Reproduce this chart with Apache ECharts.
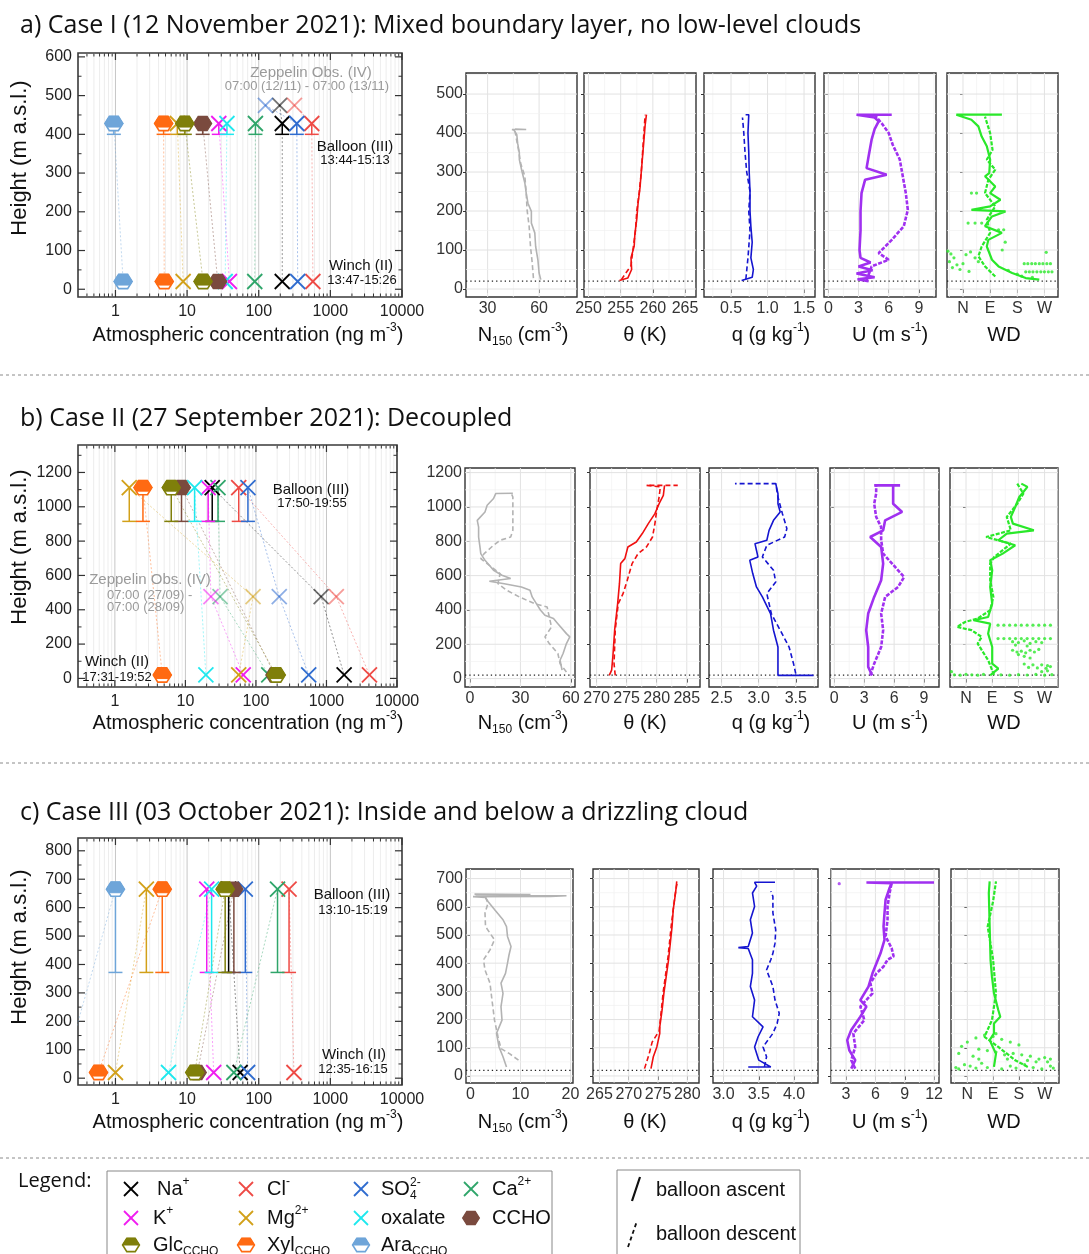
<!DOCTYPE html>
<html>
<head>
<meta charset="utf-8">
<script src="https://cdn.jsdelivr.net/npm/echarts@6/dist/echarts.min.js"></script>
<style>
html,body{margin:0;padding:0;background:#fff;}
#chart{width:1089px;height:1254px;}
</style>
</head>
<body>
<div id="chart"></div>
<script>
// ================= DATA =================
const SPECIES = ['Na+','Cl-','SO4 2-','Ca2+','K+','Mg2+','oxalate','CCHO','Glc_CCHO','Xyl_CCHO','Ara_CCHO'];
const SPECIES_COLORS = ['#000000','#ee4a45','#2f6ccf','#2fa56a','#f01cf0','#d2a019','#1ee8ee','#7a4a3e','#7f7f0a','#ff6a12','#6ea5d9'];
const SPECIES_SHAPES = ['x','x','x','x','x','x','x','hexFull','hexHalf','hexHalf','hexHalf'];
const SPECIES_LABELS = ['Na{sup|+}','Cl{sup|-}','SO','Ca{sup|2+}','K{sup|+}','Mg{sup|2+}','oxalate','CCHO','Glc{sub|CCHO}','Xyl{sub|CCHO}','Ara{sub|CCHO}'];

// concentrations (ng m-3), order as SPECIES
const caseA_balloon  = [213, 550, 340, 90, 27.7, 7.3, 36, 16.5, 9.3, 4.7, 0.95];
const caseA_zeppelin = [196, 315, 124, null, null, null, null, null, null, null, null];
const caseA_winch    = [213, 570, 350, 88, 39, 8.8, 34, 26.8, 16.7, 4.8, 1.28];
const caseA_levels   = [428, 400, 475, 20]; // balloon mean, balloon lowest, zeppelin, winch (m a.s.l.)

const caseB_balloon  = [24, 57, 77, 29, 21, 1.6, 13.5, 8.8, 6.3, 2.5, null];
const caseB_zeppelin = [840, 1380, 214, 31, 23, 91, null, null, null, null, null];
const caseB_winch    = [1780, 4070, 560, 152, 66, 57, 19.5, 185, 194, 4.7, null];
const caseB_levels   = [1112, 915, 476, 20];

const caseC_balloon  = [38, 265, 65, 183, 18.8, 2.7, 22, 45, 34, 4.5, 1.0];
const caseC_winch    = [55, 310, 70, 45, 23.5, 1.0, 5.5, 13.9, 12.8, 0.58, 0.19];
const caseC_levels   = [665, 372, null, 20];

const CONC_RANGE = [0.3, 10000];
const CONC_TICKS = [1, 10, 100, 1000, 10000];
const LEFT_Y_RANGE = [[-20, 610], [-50, 1360], [-24, 845]];
const LEFT_Y_TICKS = [[0,100,200,300,400,500,600],[0,200,400,600,800,1000,1200],[0,100,200,300,400,500,600,700,800]];

// ---- profiles: [value, height] ----
const A_N150_up = [[61,24],[60,41],[59.3,75],[58,109],[57.5,144],[55.5,169],[55.5,199],[53.5,220],[52.5,246],[51.7,272],[50,302],[48.5,332],[48.5,349],[47.5,374],[47,396],[45.5,407],[44.2,409],[52.5,409],[46,410]];
const A_N150_dn = [[56.7,28],[56,67],[55,109],[54.2,161],[53,203],[52.5,246],[51.7,289],[49.2,323],[48,357],[46.7,387],[46,404]];
const A_theta_up = [[254.8,22],[256.1,28],[256.7,50],[256.6,80],[257.1,110],[257.2,140],[257.5,180],[257.7,220],[258.0,260],[258.2,300],[258.4,340],[258.6,380],[258.8,420],[259.0,447]];
const A_theta_dn = [[255.1,24],[256.6,60],[256.9,100],[257.3,150],[257.5,200],[257.9,250],[258.2,300],[258.4,350],[258.6,400],[258.8,447]];
const A_q_up = [[0.645,22],[0.79,30],[0.806,50],[0.772,80],[0.79,120],[0.772,160],[0.76,200],[0.76,250],[0.749,300],[0.743,350],[0.732,400],[0.743,447],[0.70,447]];
const A_q_dn = [[0.703,25],[0.732,80],[0.76,150],[0.743,200],[0.76,250],[0.715,300],[0.692,350],[0.675,400],[0.657,440]];
const A_U_1 = [[4.0,20],[2.9,25],[4.6,30],[2.8,40],[4.4,48],[3.0,58],[4.2,68],[3.2,80],[3.1,100],[3.2,150],[3.2,200],[3.3,246],[3.65,280],[5.8,293],[3.8,310],[4.0,340],[4.3,383],[4.6,410],[5.0,430],[4.6,440],[2.8,447],[6.3,447]];
const A_U_2 = [[3.8,22],[4.3,58],[6.0,75],[5.0,92],[6.3,126],[7.5,161],[7.9,203],[7.7,246],[7.1,332],[6.4,370],[6.0,400],[5.3,425],[4.8,440],[4.6,447]];
const A_WD_1 = [[253,24],[208,28],[163,41],[118,58],[96,75],[79,109],[84,126],[129,144],[73,161],[96,186],[141,199],[28,203],[90,212],[124,229],[90,246],[107,263],[73,289],[87,297],[90,332],[79,366],[62,391],[51,417],[28,434],[-22,447],[129,447]];
const A_WD_2 = [[107,32],[73,58],[51,84],[62,109],[90,144],[79,178],[107,212],[73,246],[84,280],[107,306],[79,332],[98,357],[90,400],[73,442]];
const A_WD_pts = [[-50,97],[-40,90],[-30,80],[-45,70],[-20,62],[-35,55],[-10,50],[10,88],[25,95],[40,80],[51,70],[0,65],[20,45],[203,65],[215,65],[228,65],[240,65],[253,65],[265,65],[278,65],[290,65],[208,44],[220,44],[232,44],[245,44],[258,44],[270,44],[283,44],[295,44],[180,38],[195,33],[230,30],[150,48],[276,94],[28,246],[45,246],[17,169],[40,169],[62,169],[118,152],[135,152],[140,120],[130,100]];

const B_N150_up = [[54.8,49],[53.6,107],[55.4,146],[57.4,204],[59.4,243],[57.4,262],[52.3,320],[49.7,350],[44.6,369],[42,398],[39.5,437],[37,476],[35.7,515],[30.6,534],[20.4,553],[11.5,567],[24.2,583],[19,602],[14,631],[11.5,660],[8.9,689],[6.4,728],[5.9,767],[5.1,825],[5.1,883],[4.3,922],[8.9,971],[10.2,1010],[14,1049],[15.3,1078],[25.5,1080]];
const B_N150_dn = [[57.4,39],[53.6,87],[52.3,146],[47.2,204],[44.6,243],[48.5,301],[47.2,359],[45.9,417],[38.3,437],[29.3,476],[21.7,515],[16.6,553],[17.9,612],[11.5,660],[6.4,699],[8.4,728],[14,777],[17.9,806],[24.2,825],[25.5,864],[25.5,961],[25.5,1058],[24.2,1087]];
const B_theta_up = [[272.1,19],[272.5,49],[272.7,126],[273.0,282],[273.5,437],[273.8,553],[274.0,670],[274.7,699],[275.2,767],[276.6,796],[277.6,845],[278.6,903],[279.7,961],[280.4,1019],[281.1,1068],[281.3,1126]];
const B_theta_dn = [[273.1,19],[272.9,87],[273.1,282],[273.6,437],[274.4,495],[275.1,573],[275.9,670],[276.9,728],[278.3,767],[279.3,825],[279.7,903],[280.0,981],[280.4,1058],[280.6,1117],[278.3,1126],[283.5,1126]];
const B_q_up = [[3.74,19],[3.26,19],[3.26,49],[3.26,184],[3.2,282],[3.16,379],[3.05,476],[2.97,534],[2.92,612],[2.88,689],[2.99,709],[2.97,748],[2.95,786],[3.11,806],[3.14,864],[3.2,922],[3.29,971],[3.26,1019],[3.26,1078],[3.23,1136]];
const B_q_dn = [[3.5,29],[3.47,87],[3.41,184],[3.29,282],[3.17,379],[3.11,495],[3.23,563],[3.2,631],[3.05,709],[3.11,777],[3.35,825],[3.38,874],[3.32,961],[3.26,1058],[3.23,1136],[2.68,1136]];
const B_U_1 = [[3.8,19],[3.4,68],[3.4,184],[3.2,282],[3.4,379],[4.0,476],[4.7,573],[4.9,670],[4.7,767],[3.6,825],[4.9,864],[5.1,922],[6.8,971],[5.9,1019],[5.9,1068],[5.9,1126],[4.0,1126],[6.6,1126]];
const B_U_2 = [[3.6,19],[4.0,87],[4.7,184],[4.9,282],[4.7,379],[5.1,476],[6.4,534],[7.0,592],[6.4,631],[5.5,689],[4.9,728],[4.7,806],[4.7,883],[4.2,942],[4.0,1019],[4.2,1078],[4.2,1126]];
const B_WD_1 = [[190,1136],[211,1117],[183,1058],[169,1000],[154,942],[161,903],[233,864],[140,845],[111,806],[169,777],[126,728],[83,689],[90,631],[83,534],[90,437],[76,359],[26,340],[83,320],[76,262],[90,184],[90,87],[111,58],[83,19]];
const B_WD_2 = [[176,1136],[197,1078],[176,1019],[140,942],[154,864],[69,825],[154,786],[126,748],[97,709],[83,670],[83,573],[94,476],[83,398],[40,350],[-3,330],[-31,301],[19,282],[54,243],[40,204],[76,107],[97,19]];
const B_WD_pts = [[110,311],[130,311],[150,311],[170,311],[190,311],[210,311],[230,311],[250,311],[270,311],[290,311],[110,233],[130,233],[150,233],[170,233],[190,233],[210,233],[230,233],[250,233],[270,233],[290,233],[160,215],[180,210],[200,220],[220,205],[240,215],[260,210],[170,195],[210,190],[160,165],[175,155],[190,160],[205,150],[220,165],[235,155],[250,170],[180,140],[200,130],[220,120],[200,85],[230,80],[260,80],[280,75],[290,70],[215,65],[245,62],[275,60],[-40,22],[-20,20],[0,25],[20,22],[40,20],[60,24],[120,22],[150,20],[180,23],[210,21],[240,24],[270,20],[295,23],[-50,40],[260,40],[280,45]];

const C_N150_up = [[7.2,32],[6.5,68],[5.7,103],[5.2,151],[6.3,198],[6.1,246],[6.5,293],[6.1,329],[7.0,364],[7.4,400],[7.7,429],[8.1,459],[7.4,495],[7.2,530],[6.5,554],[4.8,590],[3.5,619],[3.0,633],[0.5,636],[16,637],[19.2,639],[1,641],[12,643],[0.8,645]];
const C_N150_dn = [[9.6,56],[7.8,79],[6.1,97],[5.5,139],[4.8,198],[4.3,269],[3.9,329],[2.9,376],[2.6,412],[3.9,447],[4.8,483],[3.0,530],[2.9,578],[3.5,613],[3.0,633]];
const C_theta_up = [[273.8,26],[274.2,68],[274.8,103],[275.3,151],[275.3,174],[275.7,234],[276.0,293],[276.4,352],[276.8,412],[277.1,471],[277.4,530],[277.6,590],[278.0,649],[278.2,690]];
const C_theta_dn = [[272.7,26],[273.5,79],[274.0,120],[275.2,160],[275.9,300],[276.7,420],[277.3,540],[277.9,640],[278.3,690]];
const C_q_up = [[3.35,32],[3.67,32],[3.5,56],[3.44,103],[3.49,139],[3.56,174],[3.41,210],[3.44,269],[3.38,317],[3.41,364],[3.41,412],[3.35,452],[3.21,455],[3.35,459],[3.41,507],[3.38,554],[3.44,601],[3.41,649],[3.47,673],[3.44,687],[3.73,687]];
const C_q_dn = [[3.58,32],[3.61,68],[3.56,103],[3.7,151],[3.76,186],[3.79,222],[3.73,269],[3.7,317],[3.61,376],[3.67,412],[3.7,435],[3.73,471],[3.74,518],[3.7,578],[3.7,637],[3.67,655]];
const C_U_1 = [[3.53,26],[3.94,56],[3.33,91],[3.12,127],[3.53,163],[4.46,210],[5.08,246],[4.46,269],[5.29,317],[5.7,364],[6.11,400],[6.52,435],[6.93,483],[6.83,530],[6.93,578],[7.04,625],[7.45,667],[7.66,684],[5.08,686],[11.99,686]];
const C_U_2 = [[3.94,26],[3.53,56],[3.94,103],[3.74,151],[4.87,198],[4.46,246],[5.7,293],[5.49,329],[6.11,364],[6.83,388],[7.24,412],[7.86,424],[7.66,453],[7.04,495],[7.24,554],[7.24,601],[7.45,649],[7.66,684]];
const C_U_pts = [[2.3,682]];
const C_WD_1 = [[93,32],[100,79],[78,127],[93,151],[93,186],[115,210],[108,234],[93,293],[86,352],[81,412],[78,530],[75,649],[78,690]];
const C_WD_2 = [[211,32],[167,56],[108,103],[60,139],[86,198],[100,293],[90,412],[71,530],[90,620],[100,690]];
const C_WD_pts = [[-40,30],[-30,25],[-10,40],[10,35],[30,28],[50,45],[70,30],[120,25],[150,35],[170,28],[200,40],[230,30],[260,25],[290,35],[300,28],[250,60],[270,65],[290,60],[220,70],[190,75],[160,80],[130,75],[100,85],[70,90],[40,95],[20,70],[-20,105],[0,120],[30,135],[60,145],[90,140],[120,130],[150,120],[180,110],[100,150],[-30,80],[210,55],[240,50],[280,50],[40,60],[140,60]];

const ROW_Y_RANGE = [[-20.5, 554], [-49, 1227], [-25, 734]];
const ROW_Y_TICKS = [[0,100,200,300,400,500],[0,200,400,600,800,1000,1200],[0,100,200,300,400,500,600,700]];
const X_RANGES = [
  [[17.4,82.1],[249.3,266.7],[0.13,1.65],[-0.43,10.7],[-53,315]],
  [[-3,62.5],[268.9,287.2],[2.33,3.8],[-0.43,10.5],[-55,316]],
  [[-0.9,20.5],[263.9,282],[2.85,4.34],[1.46,12.5],[-57,320]]
];
const X_TICKS = [
  [[30,60],[250,255,260,265],[0.5,1.0,1.5],[0,3,6,9],[0,90,180,270]],
  [[0,30,60],[270,275,280,285],[2.5,3.0,3.5],[0,3,6,9],[0,90,180,270]],
  [[0,10,20],[265,270,275,280],[3.0,3.5,4.0],[3,6,9,12],[0,90,180,270]]
];
const WD_NAMES = {0:'N', 90:'E', 180:'S', 270:'W'};
const GROUND_HEIGHT = 20;

const PROFILE_ROWS = [
  [{up:A_N150_up, dn:A_N150_dn},{up:A_theta_up, dn:A_theta_dn},{up:A_q_up, dn:A_q_dn},{up:A_U_1, dn:A_U_2},{up:A_WD_1, dn:A_WD_2, pts:A_WD_pts}],
  [{up:B_N150_up, dn:B_N150_dn},{up:B_theta_up, dn:B_theta_dn},{up:B_q_up, dn:B_q_dn},{up:B_U_1, dn:B_U_2},{up:B_WD_1, dn:B_WD_2, pts:B_WD_pts}],
  [{up:C_N150_up, dn:C_N150_dn},{up:C_theta_up, dn:C_theta_dn},{up:C_q_up, dn:C_q_dn},{up:C_U_1, dn:C_U_2, pts:C_U_pts},{up:C_WD_1, dn:C_WD_2, pts:C_WD_pts}]
];
const VAR_COLORS = ['#b3b3b3','#f01010','#1515d0','#a030f0','#2ae82a'];
const VAR_WIDTH = [1.6,1.6,1.6,2.6,2.2];
const VAR_TITLES = ['N{sub|150} (cm{sup|-3})','θ (K)','q (g kg{sup|-1})','U (m s{sup|-1})','WD'];

const TITLES = [
  'a) Case I (12 November 2021): Mixed boundary layer, no low-level clouds',
  'b) Case II (27 September 2021): Decoupled',
  'c) Case III (03 October 2021): Inside and below a drizzling cloud'
];

// ================= LAYOUT =================
const FONT = 'Liberation Sans';
const TFONT = 'Open Sans';
const LEFT_LAYOUT = [
  {left:78, top:53, width:324, height:244},
  {left:78, top:445, width:319, height:242},
  {left:78, top:838, width:324, height:247}
];
const ROW_LAYOUT = [
  {top:73, height:224, lefts:[466,584,704,824,947], widths:[111,112,111,112,111]},
  {top:468, height:219, lefts:[465,590,709,830,950], widths:[110,110,109,109,108]},
  {top:869, height:214, lefts:[466,593,713,831,951], widths:[107,106,105,108,108]}
];
const ROW_TITLE_Y = [335, 723, 1122];
const VAR_TITLE_X = [523, 645, 771, 890, 1004];
const LEFT_TITLE_Y = [158, 547, 947];
const ROW_HEAD_Y = [26, 419, 813];
const SEPARATOR_Y = [375, 763, 1158];

// ================= HELPERS =================
function isDecade(v){ if(!(v>0)) return false; const l=Math.log10(v); return v>=1 && Math.abs(l-Math.round(l))<1e-6; }
function plainNum(v){ return String(v); }
function midpoints(ticks, lo, hi){
  const out=[]; if(ticks.length<2) return out;
  const step=ticks[1]-ticks[0];
  for(let i=-1;i<ticks.length;i++){
    const m = i<0 ? ticks[0]-step/2 : ticks[i]+step/2;
    if(m>lo && m<hi) out.push(+m.toFixed(6));
  }
  return out;
}
function concMinor(){
  const out=[];
  for(let d=-1; d<=3; d++) for(let k=2;k<=9;k++){
    const v=+(k*Math.pow(10,d)).toPrecision(6);
    if(v>CONC_RANGE[0]+1e-9 && v<CONC_RANGE[1]) out.push(v);
  }
  return out;
}
function markerShapes(kind, x, y, color, op, s, cutFrac){
  if(kind==='x'){
    return [
      {type:'line', shape:{x1:x-s,y1:y-s,x2:x+s,y2:y+s}, style:{stroke:color,lineWidth:1.8,opacity:op}},
      {type:'line', shape:{x1:x-s,y1:y+s,x2:x+s,y2:y-s}, style:{stroke:color,lineWidth:1.8,opacity:op}}
    ];
  }
  const w=s*1.2, h=s*0.95;
  const hex=[[x-w,y],[x-w/2,y-h],[x+w/2,y-h],[x+w,y],[x+w/2,y+h],[x-w/2,y+h]];
  if(kind==='hexFull'){
    return [{type:'polygon', shape:{points:hex}, style:{fill:color, stroke:color, lineWidth:1.2, opacity:op}}];
  }
  const cut=y+h*cutFrac;
  const wc=w-(w/2)*cutFrac;
  const upper=[[x-w,y],[x-w/2,y-h],[x+w/2,y-h],[x+w,y],[x+wc,cut],[x-wc,cut]];
  return [
    {type:'polygon', shape:{points:hex}, style:{fill:'#ffffff', stroke:color, lineWidth:1.6, opacity:op}},
    {type:'polygon', shape:{points:upper}, style:{fill:color, stroke:color, lineWidth:1, opacity:op}}
  ];
}
function makeFrameRender(styles){
  return function(params, api){
    const cs=params.coordSys;
    const k=api.value(2);
    const p=api.coord([api.value(0), api.value(1)]);
    const X0=cs.x, X1=cs.x+cs.width, Y0=cs.y, Y1=cs.y+cs.height;
    const st=styles[k];
    const ln=(a,b,c,d)=>({type:'line', silent:true, shape:{x1:a,y1:b,x2:c,y2:d}, style:{stroke:st.c, lineWidth:st.w, lineDash:st.dash||null}});
    if(k===0||k===1) return ln(p[0],Y0,p[0],Y1);
    if(k===2||k===3) return {type:'group', children:[ln(p[0],Y1,p[0],Y1-st.len), ln(p[0],Y0,p[0],Y0+st.len)]};
    if(k===4||k===5) return {type:'group', children:[ln(X0,p[1],X0+st.len,p[1]), ln(X1,p[1],X1-st.len,p[1])]};
    return ln(X0,p[1],X1,p[1]);
  };
}
const LEFT_FRAME_STYLES = {
  0:{c:'#c6c6c6', w:1}, 1:{c:'#e8e8e8', w:0.8},
  2:{c:'#333', w:1.2, len:7}, 3:{c:'#333', w:1, len:3.5},
  4:{c:'#333', w:1.2, len:7}, 5:{c:'#333', w:1, len:3.5}
};
const PROF_FRAME_STYLES = {
  0:{c:'#e2e2e2', w:1}, 1:{c:'#f1f1f1', w:0.7},
  6:{c:'#e2e2e2', w:1}, 7:{c:'#f1f1f1', w:0.7},
  8:{c:'#222', w:1.3, dash:[1.3,3]}
};
function rich(base, color){
  const s=Math.round(base*0.62);
  return {
    sup:{fontSize:s, fontFamily:FONT, verticalAlign:'top', lineHeight:s+1, fill:color||'#111'},
    sub:{fontSize:s, fontFamily:FONT, verticalAlign:'bottom', lineHeight:s+1, fill:color||'#111'}
  };
}
function txt(x, y, text, o){
  o=o||{};
  const size=o.size||15, color=o.color||'#111', al=o.align||'left';
  return {type:'text', x:x, y:y, rotation:o.rot||0, silent:true, z:50,
    style:{text:text, fill:color, fontSize:size, fontFamily:o.family||FONT,
      align:al, verticalAlign:'middle', textAlign:al, textVerticalAlign:'middle',
      lineHeight:Math.round(size*1.3), rich:rich(size, color)}};
}

// ================= BUILD =================
const grids=[], xAxes=[], yAxes=[], series=[], graphics=[];
const CASES = [
  {balloon:caseA_balloon, zeppelin:caseA_zeppelin, winch:caseA_winch, levels:caseA_levels},
  {balloon:caseB_balloon, zeppelin:caseB_zeppelin, winch:caseB_winch, levels:caseB_levels},
  {balloon:caseC_balloon, zeppelin:null, winch:caseC_winch, levels:caseC_levels}
];

CASES.forEach((cs, i)=>{
  const L=LEFT_LAYOUT[i];
  const yr=LEFT_Y_RANGE[i];
  grids.push({left:L.left, top:L.top, width:L.width, height:L.height, show:true, borderColor:'#3a3a3a', borderWidth:1.6, backgroundColor:'#fff', containLabel:false, outerBoundsMode:'none'});
  xAxes.push({type:'log', logBase:10, gridIndex:i, min:CONC_RANGE[0], max:CONC_RANGE[1],
    axisLine:{show:false}, axisTick:{show:false}, splitLine:{show:false}, minorTick:{show:false}, minorSplitLine:{show:false},
    axisLabel:{fontSize:16, color:'#222', fontFamily:FONT, margin:7, hideOverlap:false, formatter:v=>isDecade(v)?String(Math.round(v)):''}});
  yAxes.push({type:'value', gridIndex:i, min:yr[0], max:yr[1],
    axisLine:{show:false}, axisTick:{show:false}, splitLine:{show:false},
    axisLabel:{customValues:LEFT_Y_TICKS[i], formatter:plainNum, fontSize:16, color:'#222', fontFamily:FONT, margin:6, hideOverlap:false}});

  // frame
  const fd=[];
  CONC_TICKS.forEach(v=>{ if(v<CONC_RANGE[1]) fd.push([v,yr[0],0]); fd.push([v,yr[0],2]); });
  concMinor().forEach(v=>{ fd.push([v,yr[0],1]); fd.push([v,yr[0],3]); });
  LEFT_Y_TICKS[i].forEach(v=>fd.push([CONC_RANGE[0],v,4]));
  midpoints(LEFT_Y_TICKS[i], yr[0], yr[1]).forEach(v=>fd.push([CONC_RANGE[0],v,5]));
  series.push({type:'custom', xAxisIndex:i, yAxisIndex:i, data:fd, renderItem:makeFrameRender(LEFT_FRAME_STYLES), silent:true, z:1, clip:false});

  const lv=cs.levels;
  // connecting lines
  SPECIES.forEach((sp, s)=>{
    const pts=[];
    if(cs.balloon[s]!=null) pts.push([cs.balloon[s], lv[0]]);
    if(cs.zeppelin && cs.zeppelin[s]!=null) pts.push([cs.zeppelin[s], lv[2]]);
    if(cs.winch[s]!=null) pts.push([cs.winch[s], lv[3]]);
    pts.sort((a,b)=>b[1]-a[1]);
    if(pts.length>1) series.push({type:'line', xAxisIndex:i, yAxisIndex:i, data:pts, symbol:'none', showSymbol:false, silent:true, z:2, clip:true,
      lineStyle:{color:SPECIES_COLORS[s], width:1, opacity:0.42, type:[2,2]}});
  });
  // balloon height-range bars
  const eb=[];
  SPECIES.forEach((sp,s)=>{ if(cs.balloon[s]!=null) eb.push([cs.balloon[s], lv[0], lv[1], s]); });
  series.push({type:'custom', xAxisIndex:i, yAxisIndex:i, data:eb, encode:{x:0, y:[1,2]}, silent:true, z:3, clip:false,
    renderItem:(params, api)=>{
      const s=api.value(3), col=SPECIES_COLORS[s];
      const a=api.coord([api.value(0), api.value(1)]);
      const b=api.coord([api.value(0), api.value(2)]);
      return {type:'group', children:[
        {type:'line', shape:{x1:a[0],y1:a[1],x2:b[0],y2:b[1]}, style:{stroke:col, lineWidth:1.5}},
        {type:'line', shape:{x1:b[0]-7,y1:b[1],x2:b[0]+7,y2:b[1]}, style:{stroke:col, lineWidth:1.5}}
      ]};
    }});
  // markers
  const md=[];
  const addLevel=(arr, h, op)=>{ if(!arr) return; arr.forEach((v,s)=>{ if(v!=null && v>=CONC_RANGE[0]) md.push([v, h, s, op]); }); };
  addLevel(cs.winch, lv[3], 1);
  addLevel(cs.zeppelin, lv[2], 0.55);
  addLevel(cs.balloon, lv[0], 1);
  series.push({type:'custom', xAxisIndex:i, yAxisIndex:i, data:md, silent:true, z:4, clip:false,
    renderItem:(params, api)=>{
      const p=api.coord([api.value(0), api.value(1)]);
      const s=api.value(2);
      return {type:'group', children:markerShapes(SPECIES_SHAPES[s], p[0], p[1], SPECIES_COLORS[s], api.value(3), 7.5, 0.5)};
    }});
});

PROFILE_ROWS.forEach((row, r)=>{
  const lay=ROW_LAYOUT[r];
  const yr=ROW_Y_RANGE[r], yt=ROW_Y_TICKS[r];
  row.forEach((panel, p)=>{
    const g=3+r*5+p;
    const xr=X_RANGES[r][p], xt=X_TICKS[r][p];
    grids.push({left:lay.lefts[p], top:lay.top, width:lay.widths[p], height:lay.height, show:true, borderColor:'#333', borderWidth:1.4, backgroundColor:'#fff', containLabel:false, outerBoundsMode:'none'});
    const fmt = p===4 ? (v=>WD_NAMES[Math.round(v)]||'') : (p===2 ? (v=>v.toFixed(1)) : plainNum);
    xAxes.push({type:'value', gridIndex:g, min:xr[0], max:xr[1],
      axisLine:{show:false}, splitLine:{show:false},
      axisTick:{show:true, customValues:xt, length:4, lineStyle:{color:'#333', width:1}},
      axisLabel:{customValues:xt, formatter:fmt, fontSize:16, color:'#333', fontFamily:FONT, margin:4, hideOverlap:false}});
    yAxes.push({type:'value', gridIndex:g, min:yr[0], max:yr[1],
      axisLine:{show:false}, splitLine:{show:false},
      axisTick:{show:true, customValues:yt, length:3, lineStyle:{color:'#333', width:1}},
      axisLabel:{show:p===0, customValues:yt, formatter:plainNum, fontSize:16, color:'#333', fontFamily:FONT, margin:3, hideOverlap:false}});
    const fd=[];
    xt.forEach(v=>{ if(v>xr[0] && v<xr[1]) fd.push([v,yr[0],0]); });
    midpoints(xt, xr[0], xr[1]).forEach(v=>fd.push([v,yr[0],1]));
    yt.forEach(v=>{ if(v>yr[0] && v<yr[1]) fd.push([xr[0],v,6]); });
    midpoints(yt, yr[0], yr[1]).forEach(v=>fd.push([xr[0],v,7]));
    fd.push([xr[0], GROUND_HEIGHT, 8]);
    series.push({type:'custom', xAxisIndex:g, yAxisIndex:g, data:fd, renderItem:makeFrameRender(PROF_FRAME_STYLES), silent:true, z:1, clip:false});
    const dashDn = p<3 ? [5,3] : [4,1.5];
    series.push({type:'line', xAxisIndex:g, yAxisIndex:g, data:panel.up, symbol:'none', showSymbol:false, silent:true, z:3, clip:true,
      lineStyle:{color:VAR_COLORS[p], width:VAR_WIDTH[p], type:'solid'}});
    series.push({type:'line', xAxisIndex:g, yAxisIndex:g, data:panel.dn, symbol:'none', showSymbol:false, silent:true, z:3, clip:true,
      lineStyle:{color:VAR_COLORS[p], width:VAR_WIDTH[p], type:dashDn}});
    if(panel.pts) series.push({type:'scatter', xAxisIndex:g, yAxisIndex:g, data:panel.pts, symbolSize:3.2, silent:true, z:3,
      itemStyle:{color:VAR_COLORS[p]}});
    graphics.push(txt(VAR_TITLE_X[p], ROW_TITLE_Y[r], VAR_TITLES[p], {size:20, align:'center'}));
  });
});

// ---- texts ----
TITLES.forEach((t,i)=>graphics.push(txt(20, ROW_HEAD_Y[i], t, {size:25, family:TFONT})));
SEPARATOR_Y.forEach(y=>graphics.push({type:'line', silent:true, shape:{x1:0,y1:y,x2:1089,y2:y}, style:{stroke:'#8a8a8a', lineWidth:1, lineDash:[3,3]}}));
for(let i=0;i<3;i++){
  graphics.push(txt(20, LEFT_TITLE_Y[i], 'Height (m a.s.l.)', {size:22, align:'center', rot:Math.PI/2}));
  graphics.push(txt(248, ROW_TITLE_Y[i], 'Atmospheric concentration (ng m{sup|-3})', {size:20, align:'center'}));
}
const GRAY='#9a9a9a';
const ANNOTATIONS = [
  [311,73,'Zeppelin Obs. (IV)',15,GRAY,'center'],
  [307,86,'07:00 (12/11) - 07:00 (13/11)',13,GRAY,'center'],
  [355,147,'Balloon (III)',15,'#111','center'],
  [355,160,'13:44-15:13',13,'#111','center'],
  [361,266,'Winch (II)',15,'#111','center'],
  [362,280,'13:47-15:26',13,'#111','center'],
  [311,490,'Balloon (III)',15,'#111','center'],
  [312,503,'17:50-19:55',13,'#111','center'],
  [150,580,'Zeppelin Obs. (IV)',15,GRAY,'center'],
  [107,595,'07:00 (27/09) -',13,GRAY,'left'],
  [107,607,'07:00 (28/09)',13,GRAY,'left'],
  [117,662,'Winch (II)',15,'#111','center'],
  [117,677,'17:31-19:52',13,'#111','center'],
  [352,895,'Balloon (III)',15,'#111','center'],
  [353,910,'13:10-15:19',13,'#111','center'],
  [354,1055,'Winch (II)',15,'#111','center'],
  [353,1069,'12:35-16:15',13,'#111','center']
];
ANNOTATIONS.forEach(a=>graphics.push(txt(a[0],a[1],a[2],{size:a[3],color:a[4],align:a[5]})));

// ---- legend ----
graphics.push(txt(18, 1181, 'Legend:', {size:20, family:TFONT}));
graphics.push({type:'rect', silent:true, shape:{x:107,y:1171,width:445,height:100}, style:{fill:'none', stroke:'#888', lineWidth:1}});
const LEG_GLYPH_X=[131,246,361,471], LEG_TEXT_X=[153,267,381,492], LEG_ROW_Y=[1189,1218,1245];
const LEG_ORDER=[[0,1,2,3],[4,5,6,7],[8,9,10]];
LEG_ORDER.forEach((row, ri)=>row.forEach((s, ci)=>{
  const gx=LEG_GLYPH_X[ci], gy=LEG_ROW_Y[ri];
  graphics.push({type:'group', silent:true, children:markerShapes(SPECIES_SHAPES[s], gx, gy, SPECIES_COLORS[s], 1, 7, 0.0)});
  const tx = s===0 ? 157 : LEG_TEXT_X[ci];
  graphics.push(txt(tx, gy, SPECIES_LABELS[s], {size:20}));
  if(s===2){
    graphics.push(txt(tx+29, gy-6, '2-', {size:12}));
    graphics.push(txt(tx+29, gy+7, '4', {size:12}));
  }
}));
graphics.push({type:'rect', silent:true, shape:{x:617,y:1170,width:183,height:100}, style:{fill:'none', stroke:'#888', lineWidth:1}});
graphics.push({type:'line', silent:true, shape:{x1:632,y1:1201,x2:640,y2:1177}, style:{stroke:'#111', lineWidth:2.2}});
graphics.push({type:'line', silent:true, shape:{x1:628,y1:1247,x2:637,y2:1221}, style:{stroke:'#111', lineWidth:1.8, lineDash:[4,3]}});
graphics.push(txt(656, 1190, 'balloon ascent', {size:20}));
graphics.push(txt(656, 1234, 'balloon descent', {size:20}));

const chart = echarts.init(document.getElementById('chart'), null, {renderer:'canvas', width:1089, height:1254});
chart.setOption({
  animation:false,
  backgroundColor:'#ffffff',
  textStyle:{fontFamily:FONT},
  grid:grids, xAxis:xAxes, yAxis:yAxes, series:series,
  graphic:{elements:graphics}
});
</script>
</body>
</html>
